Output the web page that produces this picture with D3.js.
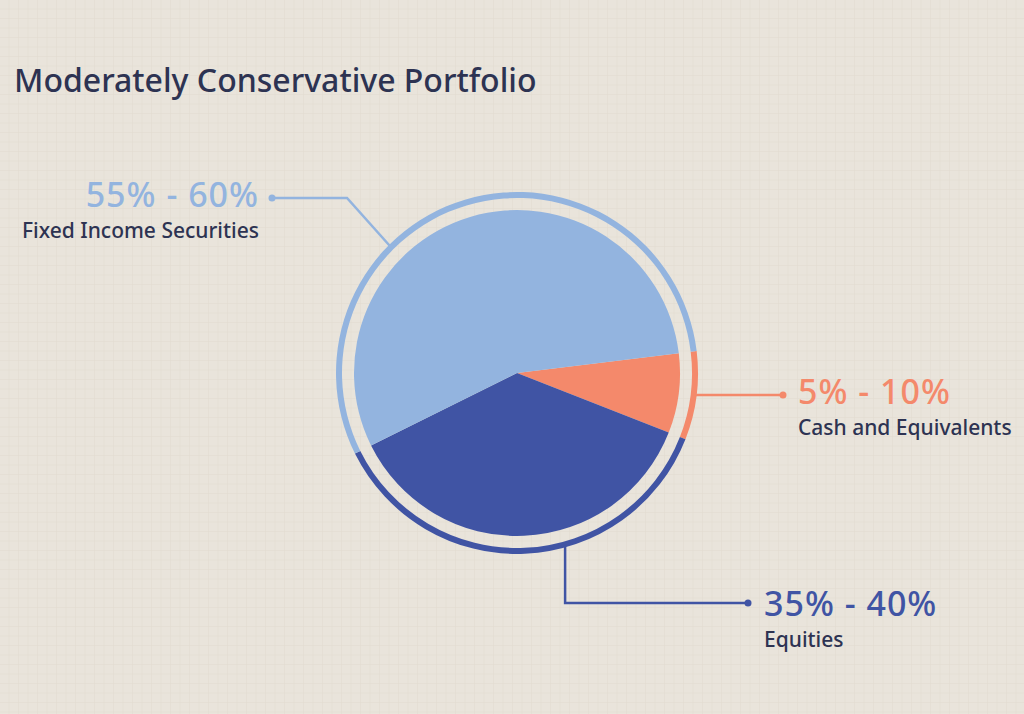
<!DOCTYPE html>
<html>
<head>
<meta charset="utf-8">
<script src="https://cdn.jsdelivr.net/npm/d3@7"></script>
<style>
  html, body { margin: 0; padding: 0; background: #e9e4db; }
  svg { display: block; font-family: "Noto Sans", "Open Sans", sans-serif; }
</style>
</head>
<body>
<div id="chart"></div>
<script>
// chart data
var categories = ["Cash and Equivalents", "Equities", "Fixed Income Securities"];
var shares     = [7.9, 36.7, 55.4];          // share of the pie
var rangeLabels = ["5% - 10%", "35% - 40%", "55% - 60%"];
var colours    = ["#f4896b", "#4054a4", "#93b4df"];
var title      = "Moderately Conservative Portfolio";

var width = 1024, height = 714;
var cx = 517, cy = 373;
var rPie = 163, rRingIn = 175, rRingOut = 181;

var svg = d3.select("#chart").append("svg")
    .attr("width", width)
    .attr("height", height);

// paper grid background
var defs = svg.append("defs");
var pat = defs.append("pattern")
    .attr("id", "grid")
    .attr("width", 9.5)
    .attr("height", 9.5)
    .attr("patternUnits", "userSpaceOnUse");
pat.append("rect").attr("width", 9.5).attr("height", 9.5).attr("fill", "#e9e4db");
pat.append("path")
    .attr("d", "M9.5 0V9.5M0 9.5H9.5")
    .attr("stroke", "#e2dbd0")
    .attr("stroke-width", 1);
svg.append("rect").attr("width", width).attr("height", height).attr("fill", "url(#grid)");

svg.append("text")
    .attr("x", 14)
    .attr("y", 92)
    .attr("font-size", 32)
    .attr("font-weight", 500)
    .attr("fill", "#2d3352")
    .text(title);

var startA = 83 * Math.PI / 180;
var pie = d3.pie().sort(null).startAngle(startA).endAngle(startA + 2 * Math.PI);
var arcs = pie(shares);

var g = svg.append("g").attr("transform", "translate(" + cx + "," + cy + ")");

var pieArc = d3.arc().innerRadius(0).outerRadius(rPie);
var ringArc = d3.arc().innerRadius(rRingIn).outerRadius(rRingOut);

g.selectAll("path.slice")
    .data(arcs)
    .enter()
    .append("path")
    .attr("class", "slice")
    .attr("d", pieArc)
    .attr("fill", function(d, i) { return colours[i]; });

g.selectAll("path.ring")
    .data(arcs)
    .enter()
    .append("path")
    .attr("class", "ring")
    .attr("d", ringArc)
    .attr("fill", function(d, i) { return colours[i]; });

// leader lines: start on the ring at a given angle, then bend to the label
function pt(angDeg, r) {
  var a = angDeg * Math.PI / 180;
  return [cx + r * Math.sin(a), cy - r * Math.cos(a)];
}

var leaders = [
  // cash: straight out to the right
  { i: 0, ang: 97, path: function(p) { return [p, [783, p[1]]]; }, dot: function(p) { return [783, p[1]]; },
    tx: 798, anchor: "start", dy1: 9, dy2: 40 },
  // equities: down, then right
  { i: 1, ang: 164.5, path: function(p) { return [p, [p[0], 603], [748, 603]]; }, dot: function() { return [748, 603]; },
    tx: 764, anchor: "start", dy1: 13, dy2: 43.5 },
  // fixed income: up-left, then left
  { i: 2, ang: 315, path: function(p) { return [p, [347, 198], [272, 198]]; }, dot: function() { return [272, 198]; },
    tx: 259, anchor: "end", dy1: 9, dy2: 40 }
];

leaders.forEach(function(l) {
  var p0 = pt(l.ang, rRingOut - 1);
  var pts = l.path(p0);
  var d = l.dot(p0);
  svg.append("path")
      .attr("d", d3.line()(pts))
      .attr("fill", "none")
      .attr("stroke", colours[l.i])
      .attr("stroke-width", 2.5);
  svg.append("circle")
      .attr("cx", d[0]).attr("cy", d[1]).attr("r", 3.5)
      .attr("fill", colours[l.i]);
  svg.append("text")
      .attr("x", l.tx)
      .attr("y", d[1] + l.dy1)
      .attr("text-anchor", l.anchor)
      .attr("font-size", 34)
      .attr("letter-spacing", 1)
      .attr("font-weight", 500)
      .attr("fill", colours[l.i])
      .text(rangeLabels[l.i]);
  svg.append("text")
      .attr("x", l.tx)
      .attr("y", d[1] + l.dy2)
      .attr("text-anchor", l.anchor)
      .attr("font-size", 21)
      .attr("font-weight", 500)
      .attr("fill", "#2d3352")
      .text(categories[l.i]);
});
</script>
</body>
</html>
